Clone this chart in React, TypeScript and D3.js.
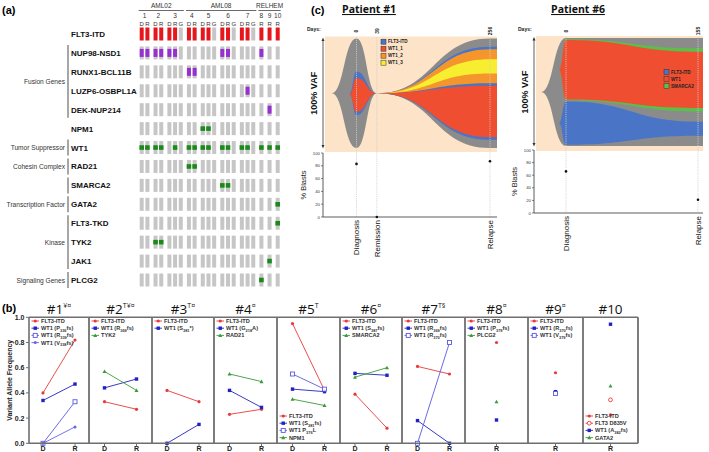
import React from "react";
import * as d3 from "d3";

const W = 709, H = 452;
const FONT = "'Liberation Sans', Arial, sans-serif";

// ---------------- Panel (a) data ----------------
const cohortNames = ["AML02", "AML08", "RELHEM"];
const cohortPatients = [[1, 2, 3], [4, 5, 6, 7], [8, 9, 10]];
const patientSamples = [
  ["D", "R"], ["D", "R"], ["D", "R", "G"], ["D", "R"], ["D", "R", "G"],
  ["D", "R", "G"], ["D", "R", "G"], ["R"], ["R"], ["R"],
];
const geneRows = [
  "FLT3-ITD", "NUP98-NSD1", "RUNX1-BCL11B", "LUZP6-OSBPL1A", "DEK-NUP214", "NPM1", "WT1",
  "RAD21", "SMARCA2", "GATA2", "FLT3-TKD", "TYK2", "JAK1", "PLCG2",
];
const geneKinds = ["itd", "fusion", "fusion", "fusion", "fusion", "mut", "mut", "mut", "mut", "mut", "mut", "mut", "mut", "mut"];
const geneHits = [
  ["1D", "1R", "2D", "2R", "3D", "3R", "4D", "4R", "5D", "5R", "6D", "6R", "7D", "7R", "8R", "9R", "10R"],
  ["1D", "1R", "2D", "2R", "3D", "3R", "6D", "6R", "8R"],
  ["4D", "4R"],
  ["7R"],
  ["9R"],
  ["5D", "5R"],
  ["1D", "1R", "2D", "2R", "3R", "4D", "4R", "5D", "5R", "6D", "6R", "7D", "7R", "8R", "9R", "10R"],
  ["4D", "4R"],
  ["6D", "6R"],
  ["10R"],
  ["10R"],
  ["2D", "2R"],
  ["9R"],
  ["8R"],
];
const geneGroupLabels = ["Fusion Genes", "Tumor Suppressor", "Cohesin Complex", "", "Transcription Factor", "Kinase", "Signaling Genes"];
const geneGroupFirst = ["NUP98-NSD1", "WT1", "RAD21", "SMARCA2", "GATA2", "FLT3-TKD", "PLCG2"];
const geneGroupLast = ["DEK-NUP214", "WT1", "RAD21", "SMARCA2", "GATA2", "JAK1", "PLCG2"];

// ---------------- Panel (b) data ----------------
const vafPanels = ["#1", "#2", "#3", "#4", "#5", "#6", "#7", "#8", "#9", "#10"];
const vafTitleMarks = ["¥¤", "T¥¤", "T¤", "¤", "T", "¤", "T§", "¤", "¤", ""];
const vafTimepoints = [["D", "R"], ["D", "R"], ["D", "R"], ["D", "R"], ["D", "R"], ["D", "R"], ["D", "R"], ["R"], ["R"], ["R"]];
const vafLegendBottom = [false, false, false, false, true, false, false, false, false, true];
const vafTicks = [0, 0.2, 0.4, 0.6, 0.8, 1.0];

const vafP1 = [
  { label: "FLT3-ITD", kind: "itd", values: [0.40, 0.82] },
  { label: "WT1 (P_336fs)", kind: "wt1", values: [0.34, 0.47] },
  { label: "WT1 (R_339fs)", kind: "wt1open", values: [0.0, 0.33] },
  { label: "WT1 (V_338fs)", kind: "wt1light", values: [0.0, 0.13] },
];
const vafP2 = [
  { label: "FLT3-ITD", kind: "itd", values: [0.33, 0.27] },
  { label: "WT1 (R_369fs)", kind: "wt1", values: [0.44, 0.51] },
  { label: "TYK2", kind: "other", values: [0.57, 0.42] },
];
const vafP3 = [
  { label: "FLT3-ITD", kind: "itd", values: [0.42, 0.33] },
  { label: "WT1 (S_381*)", kind: "wt1", values: [0.0, 0.15] },
];
const vafP4 = [
  { label: "FLT3-ITD", kind: "itd", values: [0.23, 0.27] },
  { label: "WT1 (G_218A)", kind: "wt1", values: [0.42, 0.285] },
  { label: "RAD21", kind: "other", values: [0.55, 0.49] },
];
const vafP5 = [
  { label: "FLT3-ITD", kind: "itd", values: [0.95, 0.42] },
  { label: "WT1 (S_381fs)", kind: "wt1", values: [0.43, 0.41] },
  { label: "WT1 P_376L", kind: "wt1open", values: [0.55, 0.43] },
  { label: "NPM1", kind: "other", values: [0.35, 0.30] },
];
const vafP6 = [
  { label: "FLT3-ITD", kind: "itd", values: [0.39, 0.12] },
  { label: "WT1 (S_387fs)", kind: "wt1", values: [0.555, 0.54] },
  { label: "SMARCA2", kind: "other", values: [0.525, 0.60] },
];
const vafP7 = [
  { label: "FLT3-ITD", kind: "itd", values: [0.61, 0.55] },
  { label: "WT1 (R_369fs)", kind: "wt1", values: [0.18, 0.0] },
  { label: "WT1 (R_370fs)", kind: "wt1open", values: [0.0, 0.80] },
];
const vafP8 = [
  { label: "FLT3-ITD", kind: "itd", values: [0.80] },
  { label: "WT1 (P_379fs)", kind: "wt1", values: [0.185] },
  { label: "PLCG2", kind: "other", values: [0.33] },
];
const vafP9 = [
  { label: "FLT3-ITD", kind: "itd", values: [0.56] },
  { label: "WT1 (R_370fs)", kind: "wt1", values: [0.41] },
  { label: "WT1 (V_379fs)", kind: "wt1open", values: [0.395] },
];
const vafP10 = [
  { label: "FLT3-ITD", kind: "itd", values: [0.225] },
  { label: "FLT3 D835V", kind: "itdopen", values: [0.345] },
  { label: "WT1 (A_382fs)", kind: "wt1", values: [0.945] },
  { label: "GATA2", kind: "other", values: [0.455] },
];
const vafSeries = [vafP1, vafP2, vafP3, vafP4, vafP5, vafP6, vafP7, vafP8, vafP9, vafP10];

// ---------------- Panel (c) data ----------------
const fish1Days = [0, 39, 256];
const fish1Clones = ["founder", "FLT3-ITD", "WT1_2", "WT1_3", "WT1_1"];
const fish1Parents = [-1, 0, 1, 2, 1];
const fish1Fracs = [
  [1.0, 0, 1.0],
  [0.40, 0, 0.85],
  [0, 0, 0.31],
  [0, 0, 0.13],
  [0.31, 0, 0.47],
];
const fish1Legend = ["FLT3-ITD", "WT1_1", "WT1_2", "WT1_3"];
const blast1Stages = ["Diagnosis", "Remission", "Relapse"];
const blast1Pct = [83, 0, 87];

const fish6Days = [0, 155];
const fish6Clones = ["founder", "SMARCA2", "WT1", "FLT3-ITD"];
const fish6Parents = [-1, 0, 1, 0];
const fish6Fracs = [
  [1.0, 1.0],
  [0.565, 0.585],
  [0.55, 0.52],
  [0.40, 0.13],
];
const fish6Legend = ["FLT3-ITD", "WT1", "SMARCA2"];
const blast6Stages = ["Diagnosis", "Relapse"];
const blast6Pct = [66, 21];
const blastTicks = [0, 20, 40, 60, 80, 100];

// ---------------- styles ----------------
const cloneColor: Record<string, string> = {
  founder: "#8b8b8b",
  "FLT3-ITD": "#4a74c6",
  WT1_1: "#f04e30",
  WT1_2: "#f5962c",
  WT1_3: "#f8ee30",
  WT1: "#f04e30",
  SMARCA2: "#5cbf4c",
};
const PEACH = "#fde3c8";
const kindColor: Record<string, string> = {
  itd: "#e83a3a",
  itdopen: "#e83a3a",
  wt1: "#2222c4",
  wt1open: "#5a5ae2",
  wt1light: "#6464e6",
  other: "#3b9b3b",
};

function RichText({ x, y, text, size, weight = "bold", fill = "#222", anchor = "start" }: any) {
  const parts = text.split(/(_[0-9]+)/).filter((p: string) => p.length > 0);
  const off = size * 0.3;
  let cur = 0;
  return (
    <text x={x} y={y} fontSize={size} fontWeight={weight} fill={fill} fontFamily={FONT} textAnchor={anchor}>
      {parts.map((p: string, i: number) => {
        if (p.startsWith("_")) {
          const dy = off - cur;
          cur = off;
          return <tspan key={i} dy={dy} fontSize={size * 0.7}>{p.slice(1)}</tspan>;
        }
        const dy = -cur;
        cur = 0;
        return <tspan key={i} dy={dy}>{p}</tspan>;
      })}
    </text>
  );
}

function Marker({ kind, x, y }: any) {
  const c = kindColor[kind];
  if (kind === "itd") return <circle cx={x} cy={y} r={1.6} fill={c} />;
  if (kind === "itdopen") return <circle cx={x} cy={y} r={1.9} fill="white" stroke={c} strokeWidth={0.9} />;
  if (kind === "wt1") return <rect x={x - 1.7} y={y - 1.7} width={3.4} height={3.4} fill={c} />;
  if (kind === "wt1open") return <rect x={x - 2} y={y - 2} width={4} height={4} fill="white" stroke={c} strokeWidth={0.9} />;
  if (kind === "wt1light") return <circle cx={x} cy={y} r={1.5} fill={c} />;
  const s = 2;
  return <path d={`M${x},${y - s} L${x + s},${y + s * 0.8} L${x - s},${y + s * 0.8} Z`} fill={c} />;
}

// ---------------- Panel (a) ----------------
function PanelA() {
  const samples: { id: string; patient: number; type: string; slot: number }[] = [];
  let slot = 0;
  const GAP = 1.43;
  patientSamples.forEach((types, pi) => {
    if (pi > 0) slot += GAP;
    types.forEach((t, ti) => {
      if (ti > 0) slot += 1;
      samples.push({ id: `${pi + 1}${t}`, patient: pi + 1, type: t, slot });
    });
  });
  const x = d3.scaleLinear().domain([0, slot]).range([141.7, 277.7]);
  const y = d3.scalePoint<string>().domain(geneRows).range([34, 280]);
  const bw = 4, bh = 13;
  const patientCenter = (p: number) => {
    const s = samples.filter((d) => d.patient === p);
    return (x(s[0].slot) + x(s[s.length - 1].slot)) / 2;
  };
  return (
    <g fontFamily={FONT}>
      <text x={2} y={14} fontSize={11} fontWeight="bold">(a)</text>
      {cohortNames.map((c, ci) => {
        const ps = cohortPatients[ci];
        const ss = samples.filter((d) => ps.includes(d.patient));
        const x0 = x(ss[0].slot) - bw / 2 - 1, x1 = x(ss[ss.length - 1].slot) + bw / 2 + 1;
        return (
          <g key={c}>
            <text x={(x0 + x1) / 2} y={7.5} fontSize={6.5} textAnchor="middle" fill="#333">{c}</text>
            <line x1={x0} x2={x1} y1={10.5} y2={10.5} stroke="#444" strokeWidth={0.8} />
          </g>
        );
      })}
      {patientSamples.map((_, pi) => (
        <text key={pi} x={patientCenter(pi + 1)} y={17.5} fontSize={6.5} textAnchor="middle" fill="#333">{pi + 1}</text>
      ))}
      {samples.map((s) => (
        <text key={s.id} x={x(s.slot)} y={25.5} fontSize={6} textAnchor="middle" fill="#333">{s.type}</text>
      ))}
      {geneRows.map((g, gi) => (
        <g key={g}>
          <text x={71} y={(y(g) as number) + 3} fontSize={8} fontWeight="bold" fill="#111">{g}</text>
          {samples.map((s) => {
            const hit = geneHits[gi].includes(s.id);
            const cx = x(s.slot), cy = y(g) as number;
            const kind = geneKinds[gi];
            return (
              <g key={s.id}>
                <rect x={cx - bw / 2} y={cy - bh / 2} width={bw} height={bh} fill={hit && kind === "itd" ? "#e5171d" : "#c6c6c6"} />
                {hit && kind === "fusion" && <rect x={cx - bw / 2} y={cy - 4} width={bw} height={8} fill="#9630cf" />}
                {hit && kind === "mut" && <rect x={cx - 2.3} y={cy - 2.3} width={4.6} height={4.6} fill="#1b8a1b" />}
              </g>
            );
          })}
        </g>
      ))}
      {geneGroupFirst.map((g, i) => {
        const y0 = (y(g) as number) - 8, y1 = (y(geneGroupLast[i]) as number) + 8;
        return (
          <g key={i}>
            <line x1={68} x2={68} y1={y0} y2={y1} stroke="#777" strokeWidth={1.3} />
            {geneGroupLabels[i] && (
              <text x={65} y={(y0 + y1) / 2 + 2.5} fontSize={6.6} textAnchor="end" fill="#333">{geneGroupLabels[i]}</text>
            )}
          </g>
        );
      })}
    </g>
  );
}

// ---------------- Panel (b) ----------------
function PanelB() {
  const bounds = [29, 89, 152, 214, 277, 340, 402, 465, 528, 583, 638];
  const y = d3.scaleLinear().domain([0, 1]).range([443.3, 317.3]);
  const frame = "#6f6f6f";
  return (
    <g fontFamily={FONT}>
      <text x={2} y={312} fontSize={11} fontWeight="bold">(b)</text>
      <text transform={`translate(12,${y(0.5)}) rotate(-90)`} fontSize={7} fontWeight="bold" textAnchor="middle" fill="#222">Variant Allele Frequency</text>
      {vafTicks.map((t) => (
        <g key={t}>
          <line x1={26} x2={29} y1={y(t)} y2={y(t)} stroke={frame} strokeWidth={1} />
          <text x={24.5} y={y(t) + 2.4} fontSize={7} fontWeight="bold" textAnchor="end" fill="#222">{t.toFixed(1)}</text>
        </g>
      ))}
      {vafPanels.map((name, pi) => {
        const left = bounds[pi], right = bounds[pi + 1];
        const cx = (left + right) / 2;
        const tps = vafTimepoints[pi];
        const xs = d3.scalePoint<string>().domain(tps).range(tps.length > 1 ? [cx - 16, cx + 16] : [cx, cx]);
        const series = vafSeries[pi];
        const legTop = vafLegendBottom[pi] ? 416 : 321;
        return (
          <g key={name}>
            <text x={cx} y={314} fontSize={13.5} textAnchor="middle" fill="#111" fontFamily="'Open Sans', 'Liberation Sans', sans-serif">
              {name}
              {vafTitleMarks[pi] && <tspan fontSize={7} dy={-6}>{vafTitleMarks[pi]}</tspan>}
            </text>
            {tps.map((t) => (
              <g key={t}>
                <line x1={xs(t)} x2={xs(t)} y1={443.3} y2={446} stroke={frame} strokeWidth={1} />
                <text x={xs(t)} y={451} fontSize={7} fontWeight="bold" textAnchor="middle" fill="#222">{t}</text>
              </g>
            ))}
            {series.map((s, si) => {
              const c = kindColor[s.kind];
              const pts = s.values.map((v, vi) => [xs(tps[vi]) as number, y(v)] as [number, number]);
              return (
                <g key={si}>
                  {pts.length > 1 && <path d={d3.line()(pts) as string} stroke={c} strokeWidth={0.9} fill="none" />}
                  {pts.map((p, k) => <Marker key={k} kind={s.kind} x={p[0]} y={p[1]} />)}
                </g>
              );
            })}
            {series.map((s, si) => {
              const ly = legTop + si * 7.2;
              return (
                <g key={"l" + si}>
                  <line x1={left + 2.5} x2={left + 10} y1={ly} y2={ly} stroke={kindColor[s.kind]} strokeWidth={0.9} />
                  <Marker kind={s.kind} x={left + 6.25} y={ly} />
                  <RichText x={left + 12} y={ly + 2} text={s.label} size={5.6} fill="#333" />
                </g>
              );
            })}
          </g>
        );
      })}
      <line x1={29} x2={638} y1={317.3} y2={317.3} stroke={frame} strokeWidth={1.6} />
      <line x1={29} x2={638} y1={443.3} y2={443.3} stroke={frame} strokeWidth={1.6} />
      {bounds.map((b, i) => (
        <line key={i} x1={b} x2={b} y1={317.3} y2={443.3} stroke={frame} strokeWidth={i === 0 ? 1.6 : 1.8} />
      ))}
    </g>
  );
}

// ---------------- Panel (c) ----------------
function sigmoid(xs: number[], ys: number[]) {
  let d = "";
  for (let i = 1; i < xs.length; i++) {
    const mx = (xs[i - 1] + xs[i]) / 2;
    d += ` C${mx},${ys[i - 1]} ${mx},${ys[i]} ${xs[i]},${ys[i]}`;
  }
  return d;
}

function fishPaths(fracs: number[][], parents: number[], days: number[], xScale: any, center: number, fullH: number, xEnd: number) {
  const nT = days.length;
  const hScale = d3.scaleLinear().domain([0, 1]).range([0, fullH]);
  const tops = fracs.map(() => new Array(nT).fill(0));
  const bots = fracs.map(() => new Array(nT).fill(0));
  for (let t = 0; t < nT; t++) {
    const h0 = hScale(fracs[0][t]);
    tops[0][t] = center - h0 / 2;
    bots[0][t] = center + h0 / 2;
    const place = (p: number) => {
      const kids = parents.map((pp, i) => (pp === p ? i : -1)).filter((i) => i >= 0);
      if (!kids.length) return;
      const sum = kids.reduce((a, k) => a + hScale(fracs[k][t]), 0);
      const gap = Math.max(0, (bots[p][t] - tops[p][t] - sum) / (kids.length + 1));
      let yy = tops[p][t] + gap;
      kids.forEach((k) => {
        const h = hScale(fracs[k][t]);
        tops[k][t] = yy;
        bots[k][t] = yy + h;
        yy += h + gap;
        place(k);
      });
    };
    place(0);
  }
  return fracs.map((f, k) => {
    const first = f.findIndex((v) => v > 0);
    const xs: number[] = [], ts: number[] = [], bs: number[] = [];
    if (first === 0) {
      const lead = k === 0 ? 25 : 7;
      xs.push(xScale(days[0]) - lead);
      const mid = (tops[k][0] + bots[k][0]) / 2;
      ts.push(mid); bs.push(mid);
    } else {
      xs.push(xScale(days[first - 1]));
      ts.push(tops[k][first - 1]); bs.push(bots[k][first - 1]);
    }
    for (let t = Math.max(first, 0); t < nT; t++) {
      xs.push(xScale(days[t])); ts.push(tops[k][t]); bs.push(bots[k][t]);
    }
    xs.push(xEnd); ts.push(ts[ts.length - 1]); bs.push(bs[bs.length - 1]);
    const rx = [...xs].reverse(), rb = [...bs].reverse();
    return `M${xs[0]},${ts[0]}` + sigmoid(xs, ts) + ` L${rx[0]},${rb[0]}` + sigmoid(rx, rb) + " Z";
  });
}

function FishPanel(props: any) {
  const { title, titleX, peachX0, peachX1, peachY0, peachY1, axisX, day0X, dayLastX, days, fracs, parents, clones,
    legend, legendX, legendY, stages, pct, blastY0, blastY1, center, fullH } = props;
  const xs = d3.scaleLinear().domain([days[0], days[days.length - 1]]).range([day0X, dayLastX]);
  const yb = d3.scaleLinear().domain([0, 100]).range([blastY0, blastY1]);
  const paths = fishPaths(fracs, parents, days, xs, center, fullH, peachX1);
  const arrowTop = center - fullH / 2 + 1.5, arrowBot = center + fullH / 2 - 2;
  return (
    <g fontFamily={FONT}>
      <text x={titleX} y={13} fontSize={10.5} fontWeight="bold" textAnchor="middle" textDecoration="underline" fill="#111" fontFamily="'Open Sans', 'Liberation Sans', sans-serif">{title}</text>
      <text x={axisX - 16} y={31} fontSize={5} fontWeight="bold" fill="#222">Days:</text>
      {days.map((d: number) => (
        <text key={d} transform={`translate(${xs(d) + 1.7},31) rotate(-90)`} fontSize={5} fontWeight="bold" textAnchor="middle" fill="#222">{d}</text>
      ))}
      <rect x={peachX0} y={peachY0} width={peachX1 - peachX0} height={peachY1 - peachY0} fill={PEACH} />
      {paths.map((p: string, i: number) => (
        <path key={i} d={p} fill={cloneColor[clones[i]]} />
      ))}
      {days.map((d: number) => (
        <line key={"v" + d} x1={xs(d)} x2={xs(d)} y1={peachY0 + 1} y2={blastY0} stroke="#cfcfcf" strokeWidth={0.8} strokeDasharray="1.2,1" />
      ))}
      <line x1={axisX} x2={axisX} y1={arrowTop} y2={arrowBot} stroke="#333" strokeWidth={0.8} />
      <path d={`M${axisX},${arrowTop - 2.5} l-1.5,3.5 l3,0 Z`} fill="#333" />
      <path d={`M${axisX},${arrowBot + 2.5} l-1.5,-3.5 l3,0 Z`} fill="#333" />
      <text transform={`translate(${axisX - 6},${center}) rotate(-90)`} fontSize={9} fontWeight="bold" textAnchor="middle" fill="#111">100% VAF</text>
      {legend.map((l: string, i: number) => (
        <g key={l}>
          <rect x={legendX} y={legendY + i * 7 - 2.5} width={5} height={5} fill={cloneColor[l]} stroke="#333" strokeWidth={0.5} />
          <text x={legendX + 7} y={legendY + i * 7 + 1.7} fontSize={4.6} fontWeight="bold" fill="#222">{l}</text>
        </g>
      ))}
      {/* blasts */}
      <line x1={axisX} x2={axisX} y1={blastY1} y2={blastY0} stroke="#333" strokeWidth={0.8} />
      <line x1={axisX} x2={peachX1} y1={blastY0} y2={blastY0} stroke="#333" strokeWidth={0.8} />
      {blastTicks.map((t) => (
        <g key={t}>
          <line x1={axisX - 2} x2={axisX} y1={yb(t)} y2={yb(t)} stroke="#333" strokeWidth={0.6} />
          <text x={axisX - 3} y={yb(t) + 1.5} fontSize={4.3} textAnchor="end" fill="#333">{t}</text>
        </g>
      ))}
      <text transform={`translate(${axisX - 17},${(blastY0 + blastY1) / 2}) rotate(-90)`} fontSize={7.5} textAnchor="middle" fill="#222">% Blasts</text>
      {stages.map((s: string, i: number) => (
        <g key={s}>
          <circle cx={xs(days[i])} cy={yb(pct[i])} r={1.3} fill="#111" />
          <text transform={`translate(${xs(days[i]) + 2.8},${blastY0 + 3}) rotate(-90)`} fontSize={8} textAnchor="end" fill="#111">{s}</text>
        </g>
      ))}
    </g>
  );
}

export default function App() {
  return (
    <svg width={W} height={H} viewBox={`0 0 ${W} ${H}`} style={{ position: "absolute", left: 0, top: 0, background: "white" }}>
      <rect width={W} height={H} fill="white" />
      <PanelA />
      <PanelB />
      <text x={311} y={14} fontSize={11} fontWeight="bold" fontFamily={FONT}>(c)</text>
      <FishPanel
        title="Patient #1" titleX={369}
        peachX0={325} peachX1={497} peachY0={36.5} peachY1={152}
        axisX={323} day0X={356.5} dayLastX={490}
        days={fish1Days} fracs={fish1Fracs} parents={fish1Parents} clones={fish1Clones}
        legend={fish1Legend} legendX={381} legendY={41.7}
        stages={blast1Stages} pct={blast1Pct} blastY0={217} blastY1={153}
        center={93.3} fullH={109.5}
      />
      <FishPanel
        title="Patient #6" titleX={578}
        peachX0={536} peachX1={703} peachY0={36} peachY1={151}
        axisX={534} day0X={566} dayLastX={698}
        days={fish6Days} fracs={fish6Fracs} parents={fish6Parents} clones={fish6Clones}
        legend={fish6Legend} legendX={664} legendY={72}
        stages={blast6Stages} pct={blast6Pct} blastY0={213} blastY1={150}
        center={92} fullH={108}
      />
    </svg>
  );
}
